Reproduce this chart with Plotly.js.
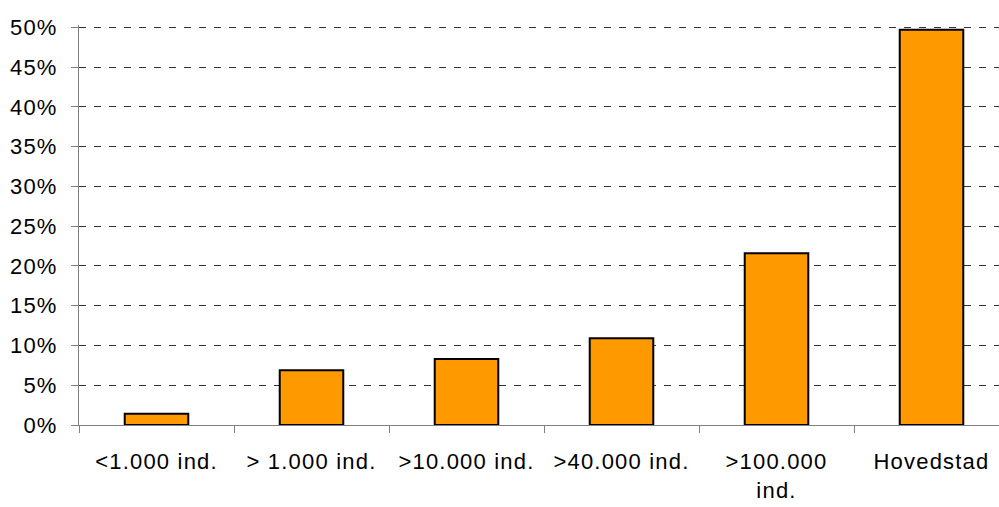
<!DOCTYPE html>
<html>
<head>
<meta charset="utf-8">
<script src="https://cdn.plot.ly/plotly-3.0.1.min.js"></script>
<style>
html,body{margin:0;padding:0;background:#fff;overflow:hidden;}
.xtick text, .ytick text { letter-spacing: 1.2px; }
</style>
</head>
<body>
<div id="chart" style="width:999px;height:507px;"></div>
<script>
const categories = ["<1.000 ind.", "> 1.000 ind.", ">10.000 ind.", ">40.000 ind.", ">100.000<br>ind.", "Hovedstad"];
const values = [1.4, 6.9, 8.3, 10.9, 21.6, 49.7];
const yTicks = [0, 5, 10, 15, 20, 25, 30, 35, 40, 45, 50];

const trace = {
  type: "bar",
  x: categories,
  y: values,
  width: 0.41,
  marker: {color: "#FF9900", line: {color: "#000000", width: 2}},
  hoverinfo: "skip"
};

const layout = {
  width: 999, height: 507,
  margin: {l: 79, r: 0, t: 25, b: 82},
  paper_bgcolor: "#ffffff", plot_bgcolor: "#ffffff",
  font: {family: "Liberation Sans, Arial, sans-serif", size: 22, color: "#000"},
  showlegend: false,
  xaxis: {
    type: "category",
    range: [-0.5, -0.5 + 920/155],
    showline: true, linecolor: "#808080", linewidth: 1,
    ticks: "outside", tickson: "boundaries", ticklen: 7, tickcolor: "#808080",
    ticklabelstandoff: 17,
    showgrid: false, zeroline: false,
    tickfont: {size: 22, color: "#000"}
  },
  yaxis: {
    range: [0, 50.3],
    tickvals: yTicks,
    ticktext: yTicks.map(v => v + "%"),
    showline: true, linecolor: "#808080", linewidth: 1,
    ticks: "outside", ticklen: 7, tickcolor: "#808080",
    ticklabelstandoff: 9,
    showgrid: true, gridcolor: "#333333", gridwidth: 1, griddash: "7px,8px",
    zeroline: false,
    tickfont: {size: 22, color: "#000"}
  }
};

Plotly.newPlot("chart", [trace], layout, {staticPlot: true, displayModeBar: false});
</script>
</body>
</html>
